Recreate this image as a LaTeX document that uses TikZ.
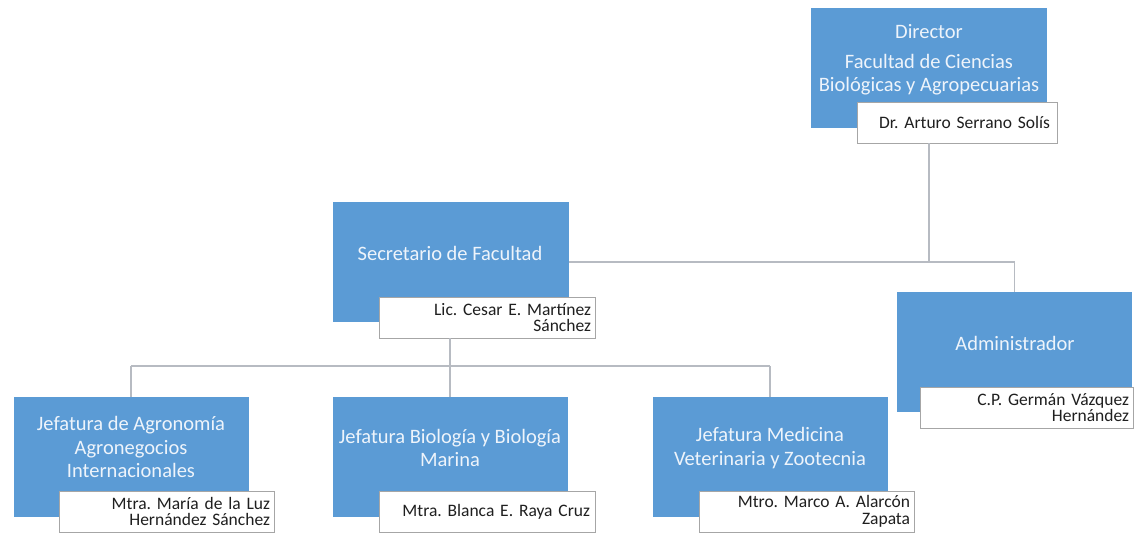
\documentclass[tikz,border=0pt]{standalone}
\usepackage{fontspec}
\setmainfont{Carlito}
\frenchspacing
\definecolor{boxblue}{HTML}{5B9BD5}
\definecolor{linegray}{HTML}{B7BBC2}
\definecolor{namegray}{HTML}{A6A6A6}
\definecolor{nametext}{HTML}{1F1F1F}
\definecolor{bluetext}{HTML}{EEF4FB}
\begin{document}
\begin{tikzpicture}[x=1pt,y=-1pt,
  bluebox/.style={fill=boxblue, draw=none, anchor=north west, minimum width=236pt, minimum height=120pt, inner sep=0pt, outer sep=0pt},
  namebox/.style={draw=namegray, line width=0.8pt, fill=white, anchor=north west, minimum width=216pt, minimum height=41pt, inner sep=0pt, outer sep=0pt},
  nametxt/.style={text=nametext, font=\fontsize{17.5}{16.5}\selectfont, align=right, text width=208pt, inner sep=0pt},
  bluetxt/.style={text=bluetext, font=\fontsize{20.5}{23.5}\selectfont, align=center, inner sep=0pt},
  conn/.style={draw=linegray, line width=1.8pt}
]
\useasboundingbox (0,0) rectangle (1139,535);

\coordinate (dv) at (929,262);
\coordinate (sv) at (450,366);

% Director
\node[bluebox] (dir) at (811,8) {};
\node[namebox, minimum width=200pt] (dirn) at (857,102) {};
\node[bluetxt] (dirt) at (929,60) {Director\\[6pt]Facultad de Ciencias\\Biológicas y Agropecuarias};
\node[nametxt, text width=186pt] (dirnt) at (dirn.center) {Dr. Arturo Serrano Solís};

% Secretario
\node[bluebox] (sec) at (333,202) {};
\node[namebox] (secn) at (379,297) {};
\node[bluetxt] (sect) at (450,253) {Secretario de Facultad};
\node[nametxt] (secnt) at (secn.center) {Lic. Cesar E. Martínez\\Sánchez};

% Administrador
\node[bluebox, minimum width=235pt] (adm) at (897,292) {};
\node[namebox, minimum width=213pt] (admn) at (920,387) {};
\node[bluetxt] (admt) at (1015,343) {Administrador};
\node[nametxt, text width=205pt] (admnt) at (admn.center) {C.P. Germán Vázquez\\Hernández};

% Agronomia
\node[bluebox, minimum width=235pt] (agr) at (14,397) {};
\node[namebox, minimum width=215pt] (agrn) at (59,491) {};
\node[bluetxt] (agrt) at (131,447) {Jefatura de Agronomía\\Agronegocios\\Internacionales};
\node[nametxt, text width=207pt] (agrnt) at (agrn.center) {Mtra. María de la Luz\\Hernández Sánchez};

% Biologia
\node[bluebox, minimum width=235pt] (bio) at (333,397) {};
\node[namebox] (bion) at (379,491) {};
\node[bluetxt] (biot) at (450,448) {Jefatura Biología y Biología\\Marina};
\node[nametxt, text width=206pt] (biont) at (bion.center) {Mtra. Blanca E. Raya Cruz};

% Medicina
\node[bluebox, minimum width=235pt] (med) at (653,397) {};
\node[namebox, minimum width=215pt] (medn) at (699,491) {};
\node[bluetxt] (medt) at (770,448) {Jefatura Medicina\\Veterinaria y Zootecnia};
\node[nametxt, text width=207pt] (mednt) at (medn.center) {Mtro. Marco A. Alarcón\\Zapata};

% connectors
\draw[conn] (dirn.south -| dv) -- (dv);
\draw[conn] (sec.east |- dv) -- (dv -| adm.north) -- (adm.north);
\draw[conn] (secn.south -| sv) -- (sv);
\draw[conn] (sv -| agrt) -- (sv -| medt);
\draw[conn] (sv -| agrt) -- (agr.north -| agrt);
\draw[conn] (sv) -- (bio.north -| sv);
\draw[conn] (sv -| medt) -- (med.north -| medt);
\end{tikzpicture}
\end{document}
